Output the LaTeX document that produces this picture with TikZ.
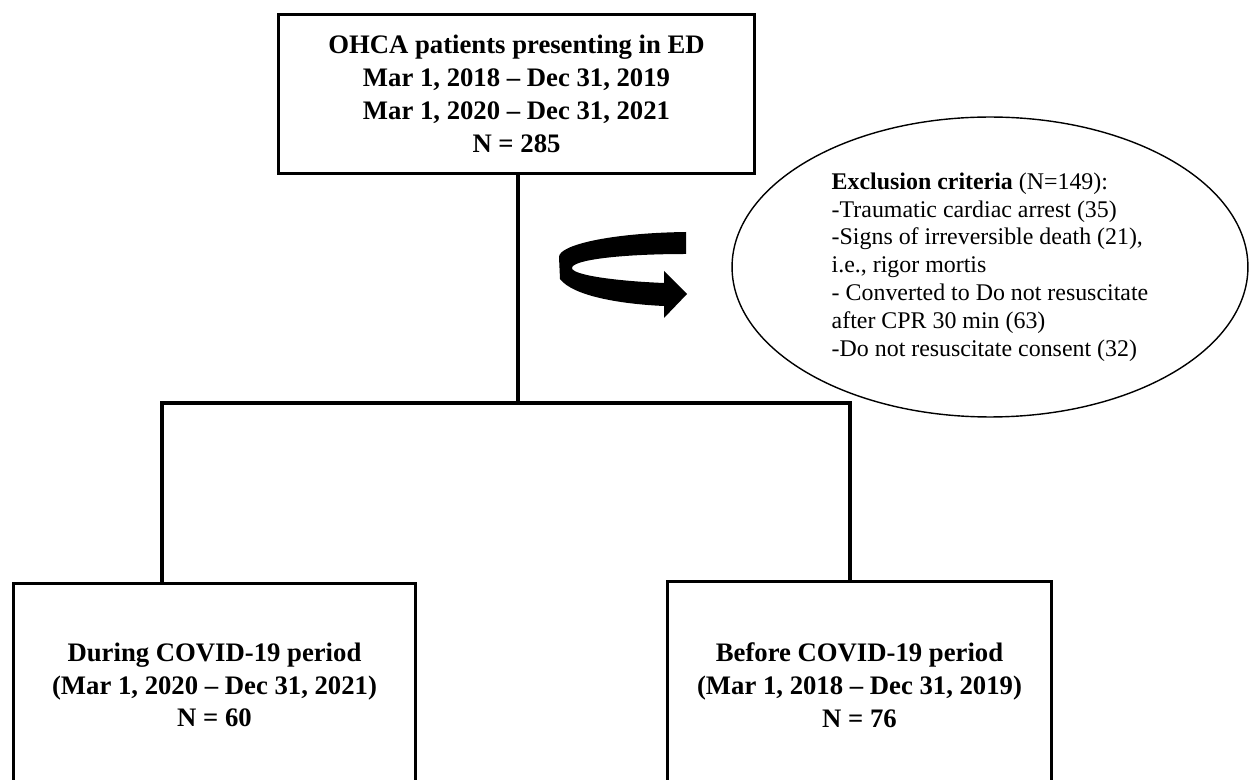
\documentclass[tikz,border=0pt]{standalone}
\usepackage{fontspec}
\setmainfont{Liberation Serif}
\usetikzlibrary{shapes.geometric}

\begin{document}
\begin{tikzpicture}[x=0.02cm, y=-0.02cm,
    box/.style={draw, line width=1.7pt, align=center, inner sep=0pt, font=\fontsize{15.2}{18.7}\selectfont\bfseries},
    wire/.style={draw, line width=1.9pt},
    oval/.style={draw, ellipse, line width=0.8pt, align=left, inner sep=0pt, font=\fontsize{13.6}{15.8}\selectfont}
]
\useasboundingbox (0,0) rectangle (1249,780);

% Cohort
\node[box, minimum width=9.54cm, minimum height=3.2cm] (cohort) at (516.5,94) {OHCA patients presenting in ED\\Mar 1, 2018 – Dec 31, 2019\\Mar 1, 2020 – Dec 31, 2021\\N = 285};

% Exclusion
\node[oval, minimum width=10.32cm, minimum height=6cm] (excl) at (990,267) {\textbf{Exclusion criteria} (N=149):\\-Traumatic cardiac arrest (35)\\-Signs of irreversible death (21),\\i.e., rigor mortis\\- Converted to Do not resuscitate\\after CPR 30 min (63)\\-Do not resuscitate consent (32)};

% Periods
\node[box, minimum width=8.06cm, minimum height=4.08cm] (during) at (214.5,685) {During COVID-19 period\\(Mar 1, 2020 – Dec 31, 2021)\\N = 60};
\node[box, minimum width=7.7cm, minimum height=4.16cm] (before) at (859.5,685) {Before COVID-19 period\\(Mar 1, 2018 – Dec 31, 2019)\\N = 76};

% Split
\coordinate (split) at (518,403);
\coordinate (jl) at (162,403);
\coordinate (jr) at (850,403);
\path[wire] (cohort.south -| split) -- (split);
\path[wire] (jl |- during.north) -- (jl) -- (jr) -- (jr |- before.north);

% Turn arrow
\fill (686,232) .. controls (610,233) and (559,245) .. (559,257) -- (560,279)
    .. controls (573,296) and (620,304) .. (664,306) -- (664,318) -- (687,294) -- (664,271) -- (664,283)
    .. controls (615,281) and (572,275) .. (572,268)
    .. controls (572,260) and (620,254) .. (686,254) -- cycle;

\end{tikzpicture}
\end{document}
